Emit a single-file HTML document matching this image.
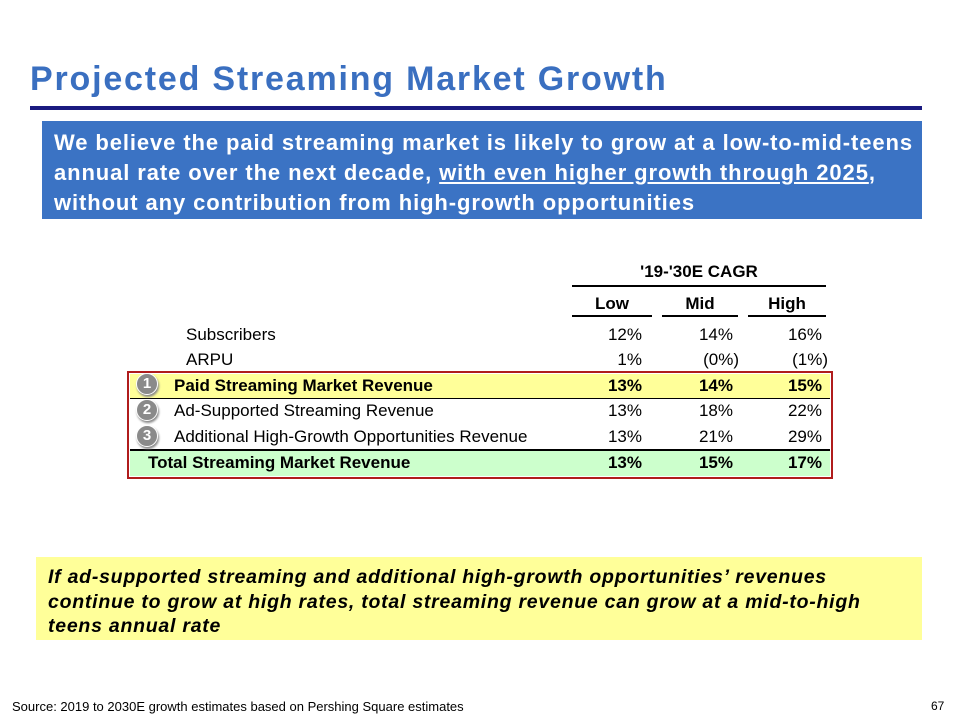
<!DOCTYPE html>
<html><head><meta charset="utf-8"><style>
body{margin:0;width:960px;height:720px;background:#fff;position:relative;overflow:hidden;font-family:"Liberation Sans",Arial,sans-serif}
.a{position:absolute;white-space:nowrap}
.t{font-size:17px;letter-spacing:0px;color:#000}
.b{font-weight:bold}
.v{text-align:right;width:60px}
.c{position:absolute;width:20px;height:20px;border-radius:50%;background:#8a8a8a;border:1.5px solid #fff;box-shadow:1px 2px 2px #888;color:#fff;font-size:15px;font-weight:bold;text-align:center;line-height:20px}
</style></head><body>
<div class="a" style="left:30px;top:60px;font-size:34px;letter-spacing:1.8px;font-weight:bold;color:#3a6fc0">Projected Streaming Market Growth</div>
<div class="a" style="left:30px;top:106px;width:892px;height:4px;background:#1a1a80"></div>
<div class="a" style="left:42px;top:121px;width:880px;height:98px;background:#3b73c4"></div>
<div class="a" style="left:54px;top:128px;font-size:22px;letter-spacing:0.9px;font-weight:bold;color:#fff;line-height:30px">We believe the paid streaming market is likely to grow at a low-to-mid-teens<br>annual rate over the next decade, <u>with even higher growth through 2025</u>,<br>without any contribution from high-growth opportunities</div>

<div class="a t b" style="left:572px;width:254px;text-align:center;top:262px">'19-'30E CAGR</div>
<div class="a" style="left:572px;top:285px;width:254px;height:2px;background:#000"></div>
<div class="a t b" style="left:572px;width:80px;text-align:center;top:294px">Low</div>
<div class="a t b" style="left:662px;width:76px;text-align:center;top:294px">Mid</div>
<div class="a t b" style="left:748px;width:78px;text-align:center;top:294px">High</div>
<div class="a" style="left:572px;top:315px;width:80px;height:2px;background:#000"></div>
<div class="a" style="left:662px;top:315px;width:76px;height:2px;background:#000"></div>
<div class="a" style="left:748px;top:315px;width:78px;height:2px;background:#000"></div>

<div class="a" style="left:130px;top:374px;width:700px;height:24px;background:#ffff99;border-bottom:1.5px solid #000"></div>
<div class="a" style="left:130px;top:449px;width:700px;height:1.5px;background:#000"></div>
<div class="a" style="left:130px;top:451px;width:700px;height:25px;background:#ccffcc"></div>
<div class="a" style="left:127px;top:371px;width:702px;height:104px;border:2px solid #b01c1c"></div>

<div class="a t" style="left:186px;top:325px">Subscribers</div>
<div class="a t" style="left:186px;top:350px">ARPU</div>
<div class="a t b" style="left:174px;top:376px">Paid Streaming Market Revenue</div>
<div class="a t" style="left:174px;top:401px">Ad-Supported Streaming Revenue</div>
<div class="a t" style="left:174px;top:427px">Additional High-Growth Opportunities Revenue</div>
<div class="a t b" style="left:148px;top:453px">Total Streaming Market Revenue</div>

<div class="c" style="left:136px;top:373px">1</div>
<div class="c" style="left:136px;top:399px">2</div>
<div class="c" style="left:136px;top:425px">3</div>

<div class="a t v" style="left:582px;top:325px">12%</div>
<div class="a t v" style="left:673px;top:325px">14%</div>
<div class="a t v" style="left:762px;top:325px">16%</div>
<div class="a t v" style="left:582px;top:350px">1%</div>
<div class="a t v" style="left:679px;top:350px">(0%)</div>
<div class="a t v" style="left:768px;top:350px">(1%)</div>
<div class="a t v b" style="left:582px;top:376px">13%</div>
<div class="a t v b" style="left:673px;top:376px">14%</div>
<div class="a t v b" style="left:762px;top:376px">15%</div>
<div class="a t v" style="left:582px;top:401px">13%</div>
<div class="a t v" style="left:673px;top:401px">18%</div>
<div class="a t v" style="left:762px;top:401px">22%</div>
<div class="a t v" style="left:582px;top:427px">13%</div>
<div class="a t v" style="left:673px;top:427px">21%</div>
<div class="a t v" style="left:762px;top:427px">29%</div>
<div class="a t v b" style="left:582px;top:453px">13%</div>
<div class="a t v b" style="left:673px;top:453px">15%</div>
<div class="a t v b" style="left:762px;top:453px">17%</div>

<div class="a" style="left:36px;top:557px;width:886px;height:83px;background:#ffff99"></div>
<div class="a" style="left:48px;top:565px;font-size:19.5px;letter-spacing:0.75px;font-weight:bold;font-style:italic;line-height:24.5px;color:#000">If ad-supported streaming and additional high-growth opportunities’ revenues<br>continue to grow at high rates, total streaming revenue can grow at a mid-to-high<br>teens annual rate</div>

<div class="a" style="left:12px;top:699px;font-size:13px;color:#000">Source: 2019 to 2030E growth estimates based on Pershing Square estimates</div>
<div class="a" style="left:931px;top:699px;font-size:12px;color:#000">67</div>
</body></html>
